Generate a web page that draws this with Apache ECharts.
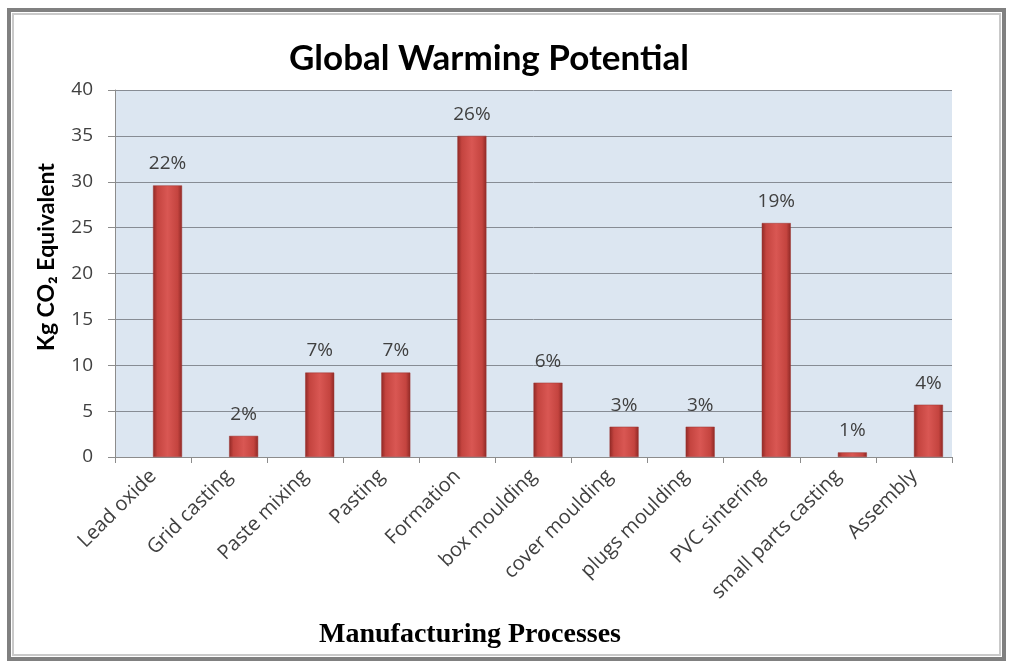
<!DOCTYPE html>
<html>
<head>
<meta charset="utf-8">
<script src="https://cdn.jsdelivr.net/npm/echarts@6/dist/echarts.min.js"></script>
<style>
  html,body{margin:0;padding:0;background:#fff;}
  #chart{width:1009px;height:666px;}
</style>
</head>
<body>
<div id="chart"></div>
<script>
  // data
  var processes = ['Lead oxide','Grid casting','Paste mixing','Pasting','Formation','box moulding',
                   'cover moulding','plugs moulding','PVC sintering','small parts casting','Assembly'];
  var kgCO2 = [29.6, 2.3, 9.2, 9.2, 35, 8.1, 3.3, 3.3, 25.5, 0.5, 5.7];
  var shares = ['22%','2%','7%','7%','26%','6%','3%','3%','19%','1%','4%'];
  var yTicks = [0, 5, 10, 15, 20, 25, 30, 35, 40];

  var myChart = echarts.init(document.getElementById('chart'));
  myChart.setOption({
    animation:false,
    title:{
      text:'Global Warming Potential',
      left:484, top:36, textAlign:'center',
      textStyle:{fontFamily:'Lato', fontWeight:'bold', fontSize:35, color:'#000'}
    },
    graphic:[
      {type:'rect', shape:{x:9,y:10,width:995,height:649},
        style:{fill:'none', stroke:'#808080', lineWidth:4}},
      {type:'rect', shape:{x:13,y:14,width:987,height:641},
        style:{fill:'none', stroke:'#c9c9c9', lineWidth:2}},
      // axis titles (placed like in the original, off-centre)
      {type:'text', x:47, y:257, rotation:Math.PI/2,
        style:{text:'Kg CO\u2082 Equivalent', fontFamily:'Lato', fontWeight:'bold', fontSize:23,
          fill:'#000', align:'center', verticalAlign:'middle'}},
      {type:'text', x:470, y:635,
        style:{text:'Manufacturing Processes', fontFamily:'Liberation Serif', fontWeight:'bold', fontSize:28,
          fill:'#000', align:'center', verticalAlign:'middle'}}
    ],
    grid:{
      left:115, right:57, top:90, bottom:209,
      show:true, backgroundColor:'#dce6f1', borderWidth:0
    },
    xAxis:{
      type:'category',
      data:processes,
      axisLine:{lineStyle:{color:'#8c8c8c'}},
      axisTick:{show:true, length:6, lineStyle:{color:'#8c8c8c'}},
      axisLabel:{rotate:45, fontFamily:'Open Sans', fontSize:20, color:'#404040', margin:16, interval:0}
    },
    yAxis:{
      type:'value',
      min:yTicks[0], max:yTicks[yTicks.length-1], interval:5,
      axisLine:{show:true, lineStyle:{color:'#8c8c8c'}},
      axisTick:{show:true, length:7, lineStyle:{color:'#8c8c8c'}},
      axisLabel:{fontFamily:'Open Sans', fontSize:19, color:'#404040', margin:22},
      splitLine:{lineStyle:{color:'#878c94', width:1}}
    },
    series:[{
      // empty slot: the original draws each bar right of the category centre
      type:'bar',
      data:processes.map(function(){ return null; }),
      barWidth:29,
      barGap:0
    },{
      type:'bar',
      data:kgCO2,
      barWidth:29,
      barGap:0,
      itemStyle:{
        color:new echarts.graphic.LinearGradient(0,0,1,0,[
          {offset:0, color:'#8f2825'},
          {offset:0.15, color:'#c4443f'},
          {offset:0.5, color:'#d95753'},
          {offset:0.85, color:'#c4443f'},
          {offset:1, color:'#8f2825'}
        ]),
        borderColor:'#9c3431', borderWidth:0.5
      },
      label:{
        show:true, position:'top', distance:12,
        formatter:function(p){ return shares[p.dataIndex]; },
        fontFamily:'Open Sans', fontSize:19, color:'#404040'
      }
    }]
  });
</script>
</body>
</html>
